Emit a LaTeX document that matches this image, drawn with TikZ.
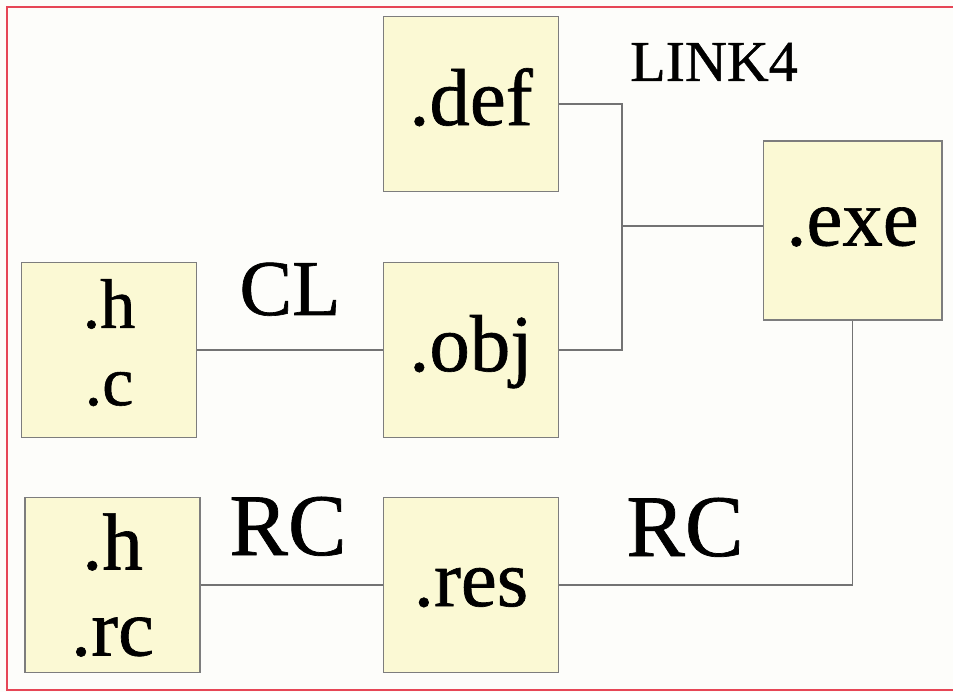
\documentclass[tikz,border=0pt]{standalone}
\usepackage{fontspec}
\setmainfont[FakeBold=0.8]{Liberation Serif}
\usepackage{tikz}
\usetikzlibrary{positioning, calc}
\definecolor{framered}{RGB}{230,70,86}
\definecolor{paper}{RGB}{253,253,250}
\definecolor{filefill}{RGB}{251,249,212}
\definecolor{fileedge}{RGB}{125,125,125}
\definecolor{wiregray}{RGB}{115,115,115}
\tikzset{
  filebase/.style={rectangle, draw=fileedge, fill=filefill, line width=0.6pt,
    minimum width=3.5cm, minimum height=3.5cm, inner sep=0pt},
  filebox/.style={filebase, font=\fontsize{46}{50}\selectfont,
    text height=32pt, text depth=8pt},
  srcbox/.style={filebase, align=center},
  wire/.style={draw=wiregray, line width=0.6pt},
  toollabel/.style={anchor=base, inner sep=0pt},
}

\begin{document}
\begin{tikzpicture}[x=0.02cm, y=-0.02cm]
  % page and red frame
  \useasboundingbox (0,0) rectangle (953,692);
  \fill[paper] (0,0) rectangle (953,692);
  \draw[framered, line width=1.7pt] (953,7) -- (7,7) -- (7,690) -- (953,690);

  \node[srcbox, font=\fontsize{40}{44}\selectfont]
    (hc) at (109,350) {.h\\.c\rule[-9pt]{0pt}{9pt}};
  \node[filebox, right=3.72cm of hc] (obj) {.obj};
  \node[filebox, above=1.4cm of obj] (def) {.def};
  \node[filebox, below=1.18cm of obj] (res) {.res};
  \node[srcbox, font=\fontsize{46}{49}\selectfont, left=3.65cm of res]
    (hrc) {.h\\.rc};
  \node[filebox, minimum width=3.58cm, minimum height=3.58cm, text depth=15pt]
    (exe) at (852.5,230.5) {.exe};

  % tool names
  \node[toollabel, font=\fontsize{33}{33}\selectfont] (link) at (714,81) {LINK4};
  \node[toollabel, font=\fontsize{45}{45}\selectfont] (cl) at (290,315) {CL};
  \node[toollabel, font=\fontsize{50}{50}\selectfont] (rcsrc) at (288,555) {RC};
  \node[toollabel, font=\fontsize{50}{50}\selectfont] (rcexe) at (685,556) {RC};

  \coordinate (split) at (622,226);
  \draw[wire] (def.east) -| (split) |- (obj.east);
  \draw[wire] (split) -- (split -| exe.west);
  \draw[wire] (hc.east) -- (obj.west);
  \draw[wire] (hrc.east) -- (res.west);
  \draw[wire] (res.east) -| (exe.south);
\end{tikzpicture}
\end{document}
